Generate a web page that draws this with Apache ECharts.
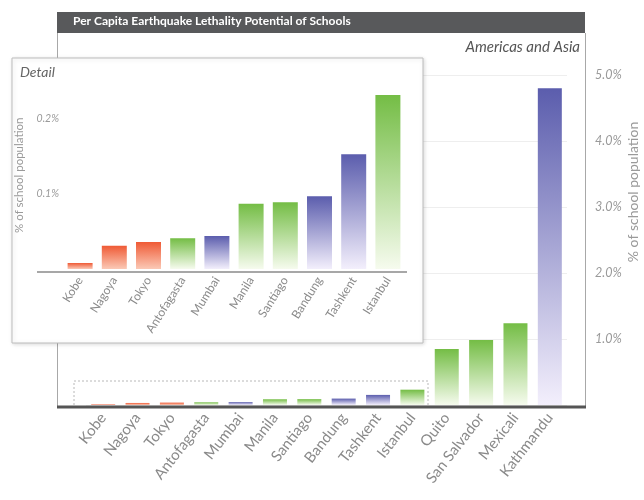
<!DOCTYPE html>
<html>
<head>
<meta charset="utf-8">
<script src="https://cdn.jsdelivr.net/npm/echarts@6/dist/echarts.min.js"></script>
<style>
    html, body { margin: 0; padding: 0; background: #fff; }
    #chart { width: 644px; height: 500px; }
</style>
</head>
<body>
<div id="chart"></div>
<script>
// data (% of school population)
var cities = ['Kobe', 'Nagoya', 'Tokyo', 'Antofagasta', 'Mumbai', 'Manila', 'Santiago', 'Bandung', 'Tashkent', 'Istanbul', 'Quito', 'San Salvador', 'Mexicali', 'Kathmandu'];
var lethality = [0.008, 0.031, 0.036, 0.041, 0.044, 0.087, 0.089, 0.097, 0.153, 0.232, 0.85, 0.985, 1.24, 4.80];
var barGroup = ['r', 'r', 'r', 'g', 'b', 'g', 'g', 'b', 'b', 'g', 'g', 'g', 'g', 'b'];
var detailCount = 10;
var detailTicks = [0.1, 0.2];
var mainTicks = [1, 2, 3, 4, 5];

var FONT = 'Lato';
var palette = {
    r: ['#ef5a35', '#fbc9b6'],
    g: ['#74bd45', '#f6fbee'],
    b: ['#5b5dad', '#f3effc']
};

function barFill(key) {
    var c = palette[key];
    return new echarts.graphic.LinearGradient(0, 0, 0, 1, [
        {offset: 0, color: c[0]},
        {offset: 1, color: c[1]}
    ]);
}

function barData(n) {
    var out = [];
    for (var i = 0; i < n; i++) {
        out.push({value: lethality[i], itemStyle: {color: barFill(barGroup[i])}});
    }
    return out;
}

var detailLines = detailTicks.map(function (v) { return {yAxis: v}; });

var myChart = echarts.init(document.getElementById('chart'));

var option = {
    animation: false,
    textStyle: {fontFamily: FONT},
    grid: [
        {left: 86, right: 77, top: 75, bottom: 95},
        {left: 63, right: 239, top: 81.5, bottom: 231, zlevel: 1}
    ],
    xAxis: [
        {
            type: 'category',
            gridIndex: 0,
            data: cities,
            axisLine: {show: false},
            axisTick: {show: false},
            axisLabel: {interval: 0, rotate: 52, margin: 10, color: '#8a8a8a', fontSize: 15, fontFamily: FONT}
        },
        {
            type: 'category',
            gridIndex: 1,
            zlevel: 1,
            data: cities.slice(0, detailCount),
            axisLine: {show: false},
            axisTick: {show: false},
            axisLabel: {interval: 0, rotate: 58, margin: 9, color: '#8a8a8a', fontSize: 12, fontFamily: FONT}
        }
    ],
    yAxis: [
        {
            type: 'value',
            gridIndex: 0,
            position: 'right',
            min: 0,
            max: mainTicks[mainTicks.length - 1],
            interval: 1,
            axisLine: {show: false},
            axisTick: {show: false},
            axisLabel: {
                margin: 28, color: '#9a9a9a', fontSize: 12.5, fontStyle: 'italic', fontFamily: FONT,
                formatter: function (v) { return v === 0 ? '' : v.toFixed(1) + '%'; }
            },
            splitLine: {lineStyle: {color: '#eeeeee', width: 1}}
        },
        {
            type: 'value',
            gridIndex: 1,
            zlevel: 1,
            min: 0,
            max: 0.25,
            interval: 0.1,
            name: '% of school population',
            nameLocation: 'middle',
            nameGap: 35,
            nameRotate: 90,
            nameTextStyle: {color: '#9a9a9a', fontSize: 11.5, fontFamily: FONT},
            axisLine: {show: false},
            axisTick: {show: false},
            axisLabel: {
                margin: 4, color: '#9a9a9a', fontSize: 10.5, fontStyle: 'italic', fontFamily: FONT,
                formatter: function (v) {
                    for (var i = 0; i < detailTicks.length; i++) {
                        if (Math.abs(v - detailTicks[i]) < 1e-6) return detailTicks[i].toFixed(1) + '%';
                    }
                    return '';
                }
            },
            splitLine: {show: false}
        }
    ],
    series: [
        {
            name: 'main',
            type: 'bar',
            xAxisIndex: 0,
            yAxisIndex: 0,
            barWidth: 24,
            data: barData(cities.length)
        },
        {
            name: 'detail',
            type: 'bar',
            xAxisIndex: 1,
            yAxisIndex: 1,
            zlevel: 1,
            z: 5,
            barWidth: 25,
            data: barData(detailCount),
            markLine: {
                silent: true,
                symbol: 'none',
                label: {show: false},
                lineStyle: {color: '#e2e2e2', type: 'dashed', width: 1},
                data: detailLines
            }
        }
    ],
    graphic: {
        elements: [
            // title bar
            {type: 'rect', shape: {x: 57, y: 12, width: 528, height: 21}, style: {fill: '#58595b'}, z: 10},
            {type: 'text', left: 73, top: 15, z: 11,
                style: {text: 'Per Capita Earthquake Lethality Potential of Schools', fill: '#ffffff', font: 'bold 12px Lato'}},
            {type: 'text', right: 64, top: 40, z: 11,
                style: {text: 'Americas and Asia', fill: '#555555', font: 'italic 15px Lato'}},
            // frame of main chart
            {type: 'line', shape: {x1: 57.5, y1: 33, x2: 57.5, y2: 407}, style: {stroke: '#a8a8a8', lineWidth: 1}, z: 10},
            {type: 'line', shape: {x1: 585.5, y1: 33, x2: 585.5, y2: 407}, style: {stroke: '#a8a8a8', lineWidth: 1}, z: 10},
            {type: 'rect', shape: {x: 74, y: 381, width: 354, height: 26},
                style: {fill: 'none', stroke: '#b8b8b8', lineWidth: 1, lineDash: [2, 2]}, z: 1},
            {type: 'line', shape: {x1: 57, y1: 407, x2: 586, y2: 407}, style: {stroke: '#555555', lineWidth: 3}, z: 10},
            // main axis name
            {type: 'text', x: 633, y: 192, rotation: Math.PI / 2, z: 11,
                style: {text: '% of school population', fill: '#9a9a9a', font: '14px Lato', textAlign: 'center', textVerticalAlign: 'middle'}},
            // detail box
            {type: 'rect', zlevel: 1, z: 0, shape: {x: 12, y: 58, width: 411, height: 285},
                style: {fill: '#ffffff', stroke: '#bdbdbd', lineWidth: 1, shadowBlur: 4, shadowColor: 'rgba(0,0,0,0.15)', shadowOffsetX: 1, shadowOffsetY: 1}},
            {type: 'text', zlevel: 1, z: 1, left: 20, top: 65,
                style: {text: 'Detail', fill: '#666666', font: 'italic 14px Lato'}},
            {type: 'line', zlevel: 1, z: 6, shape: {x1: 37, y1: 272, x2: 407, y2: 272}, style: {stroke: '#8a8a8a', lineWidth: 1.5}}
        ]
    }
};

myChart.setOption(option);
</script>
</body>
</html>
